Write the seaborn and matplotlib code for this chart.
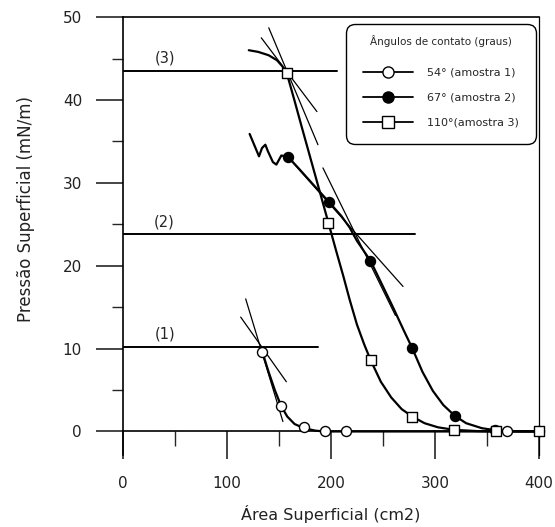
import matplotlib
matplotlib.use("Agg")
import matplotlib.pyplot as plt
import seaborn as sns
from matplotlib.lines import Line2D
from matplotlib.ticker import MultipleLocator

# pontos medidos (marcadores)
area_1 = [134, 152, 174, 194, 214, 369]
pres_1 = [9.6, 3.1, 0.6, 0.0, 0.0, 0.0]
area_2 = [159, 198, 238, 278, 319, 358, 400]
pres_2 = [33.1, 27.7, 20.6, 10.1, 1.9, 0.15, 0.0]
area_3 = [157.4, 197.5, 238.2, 278.2, 318.3, 358.4, 400]
pres_3 = [43.3, 25.2, 8.6, 1.8, 0.2, 0.0, 0.0]

# curvas tracadas
curve_1_x = [134, 140, 146, 152, 158, 165, 174, 185, 194, 214, 260, 300, 369, 400]
curve_1_y = [9.6, 7.2, 5.0, 3.1, 1.8, 0.9, 0.4, 0.1, 0.0, 0.0, 0.0, 0.0, 0.0, 0.0]
curve_2_x = [121.8, 130.8, 133.7, 136.9, 139.4, 144.2, 147.5, 152.3, 159, 170, 185, 198, 210,
             218, 225, 238, 250, 260, 270, 278, 288, 298, 308, 319, 330, 345, 358, 380, 400]
curve_2_y = [35.9, 33.2, 34.2, 34.6, 33.8, 32.5, 32.2, 33.3, 33.1, 31.6, 29.5, 27.7, 26.0,
             24.6, 23.0, 20.6, 17.5, 14.9, 12.2, 10.1, 7.2, 4.9, 3.2, 1.9, 1.0, 0.4, 0.15, 0.03, 0.0]
curve_3_x = [121, 130, 140, 148, 153, 157.4, 165, 172, 180, 188, 197.5, 205, 212, 218, 225,
             232, 238.2, 248, 258, 268, 278.2, 290, 303, 318.3, 340, 358, 400]
curve_3_y = [46.0, 45.8, 45.4, 44.8, 44.1, 43.3, 39.9, 36.7, 33.1, 29.5, 25.2, 21.8, 18.7, 15.9,
             12.9, 10.5, 8.6, 6.0, 4.1, 2.7, 1.8, 1.0, 0.5, 0.2, 0.05, 0.0, 0.0]

# retas tangentes
tangents = [
    ([118, 153.8], [16.0, 1.2]),
    ([113.2, 157.1], [13.8, 6.0]),
    ([158.7, 269.3], [33.1, 17.5]),
    ([192.3, 262], [31.8, 14.0]),
    ([133, 186.5], [47.5, 38.6]),
    ([140.2, 187.5], [48.7, 34.6]),
]
# niveis horizontais (1), (2), (3)
level_names = ["(1)", "(2)", "(3)"]
level_y = [10.2, 23.8, 43.5]
level_end = [187.5, 280.5, 205.8]

legend_title = "Ângulos de contato (graus)"
legend_labels = ["54° (amostra 1)", "67° (amostra 2)", "110°(amostra 3)"]

sns.set_style("ticks")
plt.rcParams["font.family"] = ["DejaVu Sans"]

fig = plt.figure(figsize=(5.55, 5.27), dpi=100)
ax = fig.add_axes([0.2216, 0.1366, 0.7494, 0.831])

lw_curve = 1.6
sns.lineplot(x=curve_1_x, y=curve_1_y, sort=False, color="black", lw=lw_curve, ax=ax)
sns.lineplot(x=curve_2_x, y=curve_2_y, sort=False, color="black", lw=lw_curve, ax=ax)
sns.lineplot(x=curve_3_x, y=curve_3_y, sort=False, color="black", lw=lw_curve, ax=ax)

for tx, ty in tangents:
    ax.plot(tx, ty, color="black", lw=0.9)

for name, yv, xe in zip(level_names, level_y, level_end):
    ax.plot([0, xe], [yv, yv], color="black", lw=1.4)
    ax.text(40, yv + 0.6, name, fontsize=10.5, ha="center", va="bottom")

ms = 52
sns.scatterplot(x=area_1, y=pres_1, marker="o", color="white", edgecolor="black",
                linewidth=1.0, s=ms, ax=ax, zorder=5, clip_on=False)
sns.scatterplot(x=area_2, y=pres_2, marker="o", color="black", edgecolor="black",
                linewidth=1.0, s=ms, ax=ax, zorder=5, clip_on=False)
sns.scatterplot(x=area_3, y=pres_3, marker="s", color="white", edgecolor="black",
                linewidth=1.0, s=ms, ax=ax, zorder=5, clip_on=False)

ax.set_xlim(0, 400)
ax.set_ylim(-2.84, 50)
ax.spines["bottom"].set_position(("data", 0))
for sp in ax.spines.values():
    sp.set_color("black")
    sp.set_linewidth(1.2)
ax.spines["right"].set_linewidth(0.9)

ax.xaxis.set_major_locator(MultipleLocator(100))
ax.xaxis.set_minor_locator(MultipleLocator(50))
ax.yaxis.set_major_locator(MultipleLocator(10))
ax.yaxis.set_minor_locator(MultipleLocator(5))
ax.tick_params(axis="x", which="major", direction="out", length=20, width=1.2, pad=12,
               labelsize=11, top=False, labelcolor="#222222")
ax.tick_params(axis="x", which="minor", direction="out", length=11, width=1.0, top=False)
ax.tick_params(axis="y", which="major", direction="out", length=19.5, width=1.2, pad=10,
               labelsize=11, right=False, labelcolor="#222222")
ax.tick_params(axis="y", which="minor", direction="out", length=8, width=1.0, right=False)

ax.set_xlabel("Área Superficial (cm2)", fontsize=11.5, labelpad=10, color="#222222")
ax.set_ylabel("Pressão Superficial (mN/m)", fontsize=12, color="#222222")
ax.yaxis.set_label_coords(-0.2115, 0.562)

handles = [
    Line2D([], [], color="black", lw=1.3, marker="o", markerfacecolor="white",
           markeredgecolor="black", markersize=8),
    Line2D([], [], color="black", lw=1.3, marker="o", markerfacecolor="black",
           markeredgecolor="black", markersize=8),
    Line2D([], [], color="black", lw=1.3, marker="s", markerfacecolor="white",
           markeredgecolor="black", markersize=8),
]
leg = ax.legend(handles, legend_labels, title=legend_title, loc="upper right",
                bbox_to_anchor=(536 / 555, 1 - 24 / 527), bbox_transform=fig.transFigure,
                fontsize=8, title_fontsize=7.5, frameon=True, fancybox=True,
                framealpha=1, edgecolor="black", handlelength=4.5, handletextpad=1.3,
                labelspacing=1.35, borderpad=1.5, borderaxespad=0)
leg.get_frame().set_linewidth(1.0)
leg.get_frame().set_boxstyle("round,pad=0,rounding_size=0.8")
leg.get_title().set_position((0, 6))

fig.savefig("out.png", dpi=100)
